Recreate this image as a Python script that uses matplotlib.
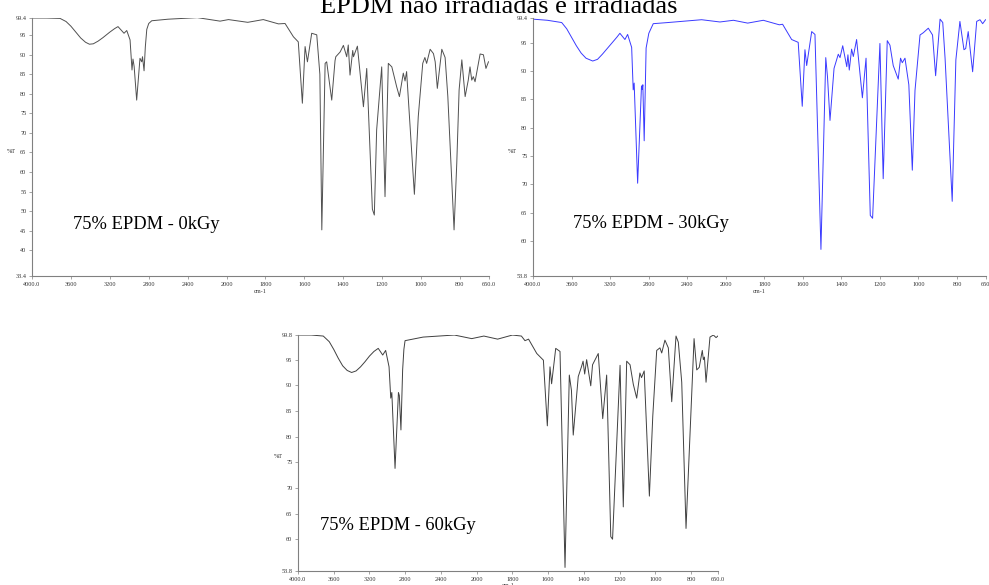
import numpy as np
import matplotlib
matplotlib.use('Agg')
import matplotlib.pyplot as plt

# ================= Data =================
# 75% EPDM - 0kGy
wn_0 = [4000, 3850, 3712, 3650, 3600, 3550, 3500, 3450, 3410, 3370, 3320, 3270, 3200, 3150, 3116,
        3054, 3026, 2992, 2972, 2962, 2950,
        2924, 2890, 2872, 2864, 2848, 2835, 2820, 2800, 2769, 2600, 2300, 2066, 1990, 1891, 1811, 1733,
        1699, 1656, 1631, 1610, 1596, 1584, 1562, 1536, 1520, 1510, 1493, 1485, 1459, 1442, 1438,
        1416, 1399, 1382, 1374, 1365, 1351, 1347, 1327, 1296, 1279, 1250, 1240, 1228, 1202, 1185, 1168,
        1150, 1125, 1111, 1091, 1082, 1074, 1034, 1014, 991, 980, 971, 953, 936, 927, 916, 893,
        876, 862, 830, 816, 804, 790, 773, 757, 748, 739, 731, 722, 696, 679, 666, 653]
t_0 = [99.4, 99.4, 99.3, 98.5, 97.3, 95.8, 94.3, 93.2, 92.7, 92.8, 93.5, 94.4, 95.8, 96.7, 97.2,
       95.5, 96.2, 93.8, 86.1, 88.9, 87.0,
       78.4, 89.1, 88.2, 89.5, 85.9, 92.0, 96.5, 98.0, 98.7, 99.1, 99.5, 98.6, 99.0, 98.3, 99.0, 97.9,
       98.0, 94.6, 93.3, 77.6, 92.1, 88.2, 95.5, 95.1, 85.0, 45.2, 87.8, 88.2, 78.4, 88.5, 89.5,
       90.7, 92.4, 89.5, 92.5, 84.8, 91.1, 89.5, 92.2, 76.7, 86.5, 50.5, 49.0, 70.8, 86.9, 53.7, 87.8,
       86.9, 81.8, 79.3, 85.3, 83.3, 85.7, 54.3, 74.2, 87.8, 89.3, 87.8, 91.4, 90.3, 88.2, 81.4, 91.4,
       89.3, 79.3, 45.2, 62.3, 81.0, 88.7, 79.3, 83.5, 86.9, 83.5, 84.4, 83.1, 90.2, 90.0, 86.5, 88.2]

# 75% EPDM - 30kGy
wn_30 = [4000, 3850, 3702, 3650, 3600, 3550, 3500, 3450, 3380, 3330, 3280, 3230, 3180, 3130, 3098,
         3046, 3018, 2976, 2960, 2950, 2914, 2874, 2866,
         2860, 2846, 2826, 2798, 2752, 2600, 2250, 2060, 1960, 1886, 1805, 1722, 1705, 1658, 1624,
         1603, 1589, 1580, 1554, 1537, 1506, 1481, 1472, 1459, 1438, 1416, 1407, 1393, 1372, 1366,
         1359, 1347, 1338, 1321, 1291, 1272, 1250, 1238, 1200, 1183, 1162, 1148, 1131, 1105, 1093, 1084,
         1070, 1050, 1032, 1018, 992, 975, 949, 927, 911, 888, 874, 862, 825, 806, 785, 764, 755,
         742, 719, 698, 681, 667, 652]
t_30 = [99.2, 99.0, 98.6, 97.5, 96.0, 94.5, 93.2, 92.3, 91.8, 92.1, 93.0, 94.0, 95.0, 96.0, 96.7,
        95.6, 96.5, 94.2, 86.7, 87.9, 70.2, 87.4, 86.8,
        87.6, 77.7, 94.1, 96.7, 98.4, 98.6, 99.1, 98.7, 99.0, 98.5, 99.0, 98.2, 98.3, 95.6, 95.1,
        83.8, 93.8, 91.0, 97.0, 96.5, 58.5, 92.4, 89.0, 81.3, 90.5, 93.0, 92.4, 94.5, 90.8, 92.9,
        90.2, 93.9, 92.6, 95.6, 85.3, 92.3, 64.5, 64.0, 94.9, 71.0, 95.4, 94.6, 91.0, 88.6, 92.3, 91.5,
        92.3, 87.6, 72.5, 86.6, 96.4, 96.8, 97.6, 96.4, 89.2, 99.2, 98.6, 92.3, 67.0, 92.0, 98.8, 93.8, 94.0,
        97.0, 89.9, 98.8, 99.1, 98.4, 99.1]

# 75% EPDM - 60kGy
wn_60 = [4000, 3850, 3717, 3650, 3600, 3550, 3500, 3450, 3400, 3350, 3300, 3250, 3200, 3150, 3102,
         3052, 3019, 2981, 2962, 2950, 2914, 2876, 2866,
         2848, 2829, 2815, 2802, 2600, 2250, 2056, 1960, 1883, 1800, 1750, 1730, 1710, 1664, 1627, 1605,
         1590, 1581, 1558, 1534, 1506, 1482, 1470, 1460, 1432, 1414, 1405, 1396, 1385, 1362, 1352,
         1320, 1295, 1273, 1250, 1240, 1198, 1180, 1161, 1142, 1124, 1105, 1087, 1078, 1063, 1034, 1015,
         993, 975, 965, 947, 928, 909, 885, 872, 853, 829, 784, 769, 755, 738, 732, 726, 717, 695,
         676, 661, 651]
t_60 = [99.8, 99.8, 99.6, 98.5, 97.0, 95.3, 93.8, 92.9, 92.5, 92.8, 93.6, 94.6, 95.7, 96.6, 97.2,
        95.9, 96.8, 93.6, 87.5, 88.6, 73.8, 88.6, 88.0,
        81.3, 93.0, 97.0, 98.7, 99.4, 99.8, 99.1, 99.6, 99.0, 99.8, 99.6, 98.7, 99.0, 96.2, 94.9, 82.1,
        93.6, 90.3, 97.2, 96.6, 54.5, 92.0, 89.0, 80.3, 91.7, 93.6, 94.7, 92.2, 95.0, 89.9, 94.0,
        96.2, 83.5, 92.0, 60.5, 60.0, 93.9, 66.3, 94.7, 94.0, 90.2, 87.5, 92.4, 91.5, 92.8, 68.4, 84.0,
        96.8, 97.3, 96.3, 98.8, 97.3, 86.8, 99.6, 98.4, 90.6, 62.1, 99.1, 93.0, 93.5, 96.8, 95.0, 95.5, 90.6, 99.4,
        99.8, 99.3, 99.6]

x_ticks = [4000, 3600, 3200, 2800, 2400, 2000, 1800, 1600, 1400, 1200, 1000, 800, 650]
x_labels = ['4000.0', '3600', '3200', '2800', '2400', '2000', '1800', '1600', '1400',
            '1200', '1000', '800', '650.0']
y_ticks_0 = [33.4, 40, 45, 50, 55, 60, 65, 70, 75, 80, 85, 90, 95, 99.4]
y_ticks_30 = [53.8, 60, 65, 70, 75, 80, 85, 90, 95, 99.4]
y_ticks_60 = [53.8, 60, 65, 70, 75, 80, 85, 90, 95, 99.8]
# ===========================================


# instrument x axis: scale is doubled below 2000 cm-1
def fwd(w):
    w = np.asarray(w, dtype=float)
    return np.where(w > 2000, 2000 + (w - 2000) / 2.0, w)


def inv(u):
    u = np.asarray(u, dtype=float)
    return np.where(u > 2000, 2000 + (u - 2000) * 2.0, u)


def draw_panel(ax, wn, t, color, yticks, label, label_pos, last_x):
    ax.plot(wn, t, color=color, linewidth=0.7)
    ax.set_xscale('function', functions=(fwd, inv))
    ax.set_xlim(4000, 650)
    ax.set_ylim(yticks[0], yticks[-1])

    ax.set_xticks(x_ticks)
    xl = list(x_labels)
    xl[-1] = last_x
    ax.set_xticklabels(xl)
    ax.set_yticks(yticks)
    ax.set_yticklabels([('%.1f' % v) if v % 1 else '%d' % v for v in yticks])
    ax.minorticks_off()

    for s in ['top', 'right']:
        ax.spines[s].set_visible(False)
    for s in ['left', 'bottom']:
        ax.spines[s].set_color('#808080')
        ax.spines[s].set_linewidth(0.8)
    ax.tick_params(axis='both', length=2, width=0.5, color='#808080', labelsize=4.5,
                   labelcolor='#333333', pad=2)
    for lbl in ax.get_xticklabels() + ax.get_yticklabels():
        lbl.set_family('Liberation Serif')

    ax.text(-0.046, 0.484, '%T', transform=ax.transAxes, fontsize=4.5,
            family='Liberation Serif', color='#333333', ha='center', va='center')
    ax.text(0.5, -0.062, 'cm-1', transform=ax.transAxes, fontsize=4.5,
            family='Liberation Serif', color='#333333', ha='center', va='center')
    ax.text(label_pos[0], label_pos[1], label, transform=ax.transAxes, fontsize=13.3,
            family='Liberation Serif', color='black', ha='left', va='baseline')


fig = plt.figure(figsize=(9.89, 5.85), dpi=100)

ax1 = fig.add_axes([0.0324, 0.5282, 0.4621, 0.4410])
ax2 = fig.add_axes([0.5389, 0.5282, 0.4580, 0.4410])
ax3 = fig.add_axes([0.3013, 0.0239, 0.4247, 0.4034])

draw_panel(ax1, wn_0, t_0, '#505050', y_ticks_0, '75% EPDM - 0kGy', (0.0897, 0.182), '650.0')
draw_panel(ax2, wn_30, t_30, '#3a3aff', y_ticks_30, '75% EPDM - 30kGy', (0.0883, 0.185), '650')
draw_panel(ax3, wn_60, t_60, '#404040', y_ticks_60, '75% EPDM - 60kGy', (0.0524, 0.174), '650.0')

fig.text(0.5045, 1 - 13 / 585, 'EPDM não irradiadas e irradiadas', fontsize=19,
         family='Liberation Serif', ha='center', va='baseline')

fig.savefig('out.png', dpi=100)
